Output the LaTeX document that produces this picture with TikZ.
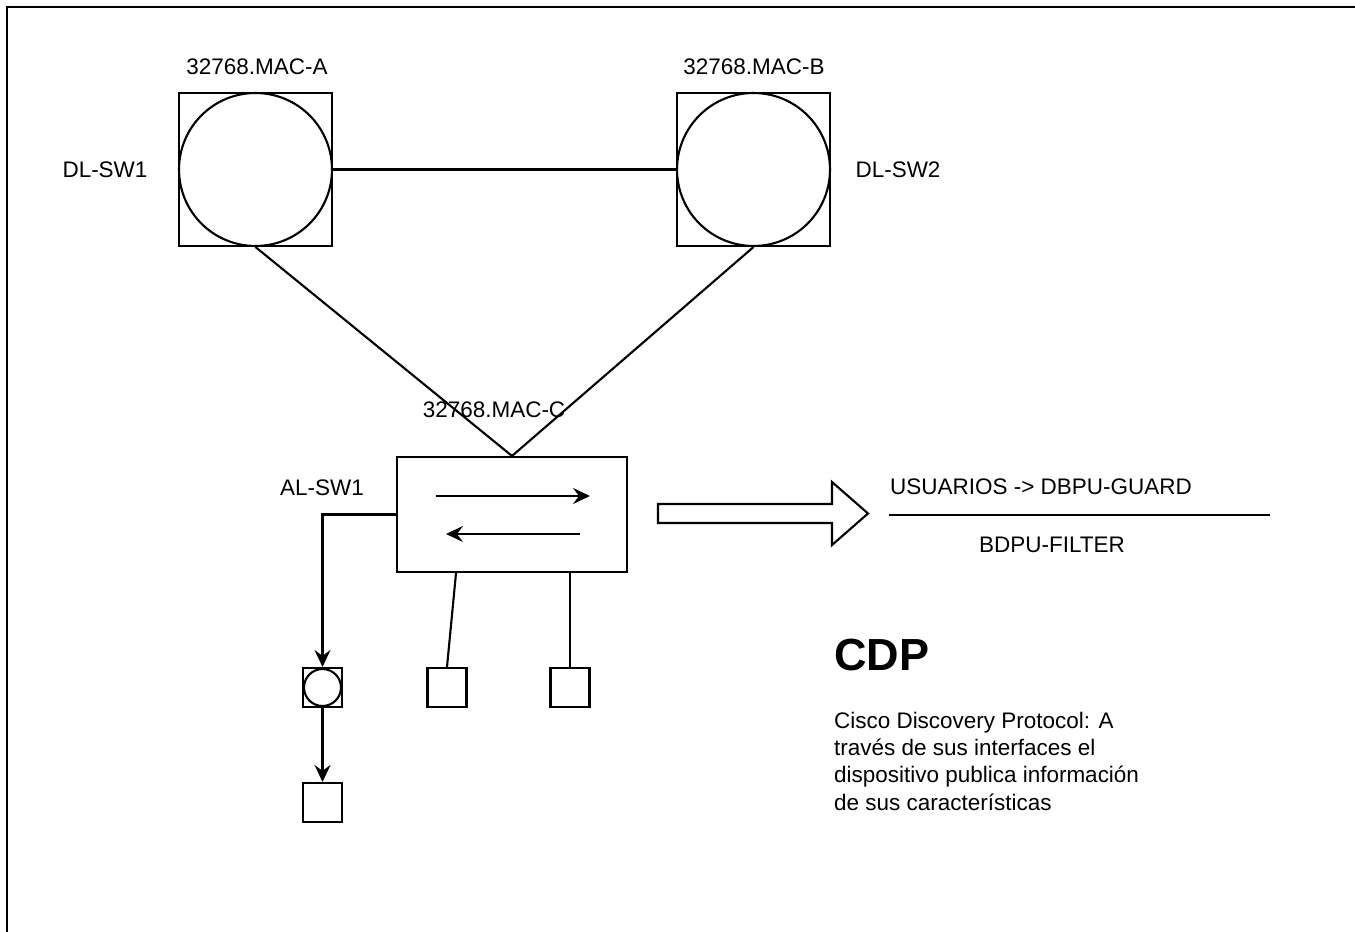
\documentclass[tikz,border=0pt]{standalone}
\usepackage{fontspec}
\setmainfont{Liberation Sans}
\usetikzlibrary{shapes.geometric, arrows, arrows.meta}
\tikzstyle{arrow} = [line width=1.2pt,->,>={Stealth[length=3.4mm,width=3.2mm,inset=1.2mm]}]

\begin{document}
\begin{tikzpicture}
        [
            x=0.02cm, y=-0.02cm, line width=1.2pt,
            swbox/.style={rectangle,draw=black,line width=1.2pt,minimum size=3.06cm,inner sep=0},
            swcirc/.style={circle,draw=black,line width=1.2pt,minimum size=3.06cm,inner sep=0},
            host/.style={rectangle,draw=black,line width=1.2pt,minimum size=0.78cm,inner sep=0},
            hostcirc/.style={circle,draw=black,line width=1.2pt,minimum size=0.74cm,inner sep=0},
            lbl/.style={font=\fontsize{12.8}{15.5}\selectfont,inner sep=0},
        ]

    \useasboundingbox (0,0) rectangle (1355,932);
    \draw[line width=1.4pt] (7,932) -- (7,7) -- (1355,7);

    % distribution switches
    \node[swbox] (sw1) at (255.5,169.5){};
    \node[swcirc] (c1) at (255.5,169.5){};
    \node[swbox] (sw2) at (753.5,169.5){};
    \node[swcirc] (c2) at (753.5,169.5){};
    \node[lbl] (macA) at (257,67){32768.MAC-A};
    \node[lbl] (macB) at (754,67){32768.MAC-B};
    \node[lbl] (dl1) at (105,170){DL-SW1};
    \node[lbl] (dl2) at (898,170){DL-SW2};

    % access switch
    \node[rectangle,draw=black,line width=1.2pt,minimum width=4.6cm,minimum height=2.3cm,inner sep=0] (al) at (512,514.5){};
    \node[lbl] (macC) at (494,410){32768.MAC-C};
    \node[lbl] (alname) at (322,488){AL-SW1};

    \draw (c1.east) -- (c2.west);
    \draw (c1.south) -- (al.north);
    \draw (c2.south) -- (al.north);

    \coordinate (a1) at (436,496);
    \coordinate (a2) at (590,496);
    \coordinate (a3) at (580,534);
    \coordinate (a4) at (446,534);
    \draw[arrow] (a1) -- (a2);
    \draw[arrow] (a3) -- (a4);

    % hosts
    \node[host] (h1) at (322.5,687.5){};
    \node[hostcirc] (h1c) at (322.5,687.5){};
    \node[host] (h2) at (322.5,802.5){};
    \node[host] (h3) at (447,687.5){};
    \node[host] (h4) at (570,687.5){};

    \draw[arrow] (al.west) -| (h1.north);
    \draw[arrow] (h1.south) -- (h2.north);
    \draw ([xshift=-1.12cm]al.south) -- (h3.north);
    \draw (h4.north) -- (h4.north |- al.south);

    % block arrow
    \draw (658,504) -- (832,504) -- (832,482) -- (868,513.5) -- (832,545) -- (832,523) -- (658,523) -- cycle;

    \node[lbl] (guard) at (1041,487){USUARIOS -> DBPU-GUARD};
    \coordinate (d1) at (889,515);
    \coordinate (d2) at (1270,515);
    \draw (d1) -- (d2);
    \node[lbl] (filter) at (1052,545){BDPU-FILTER};

    \node[anchor=west,inner sep=0,font=\fontsize{25.6}{30}\selectfont\bfseries] (cdp) at (833,655){CDP};
    \node[lbl,anchor=north west,align=left] (cdptext) at (833,711){Cisco Discovery Protocol: A\\través de sus interfaces el\\dispositivo publica información\\de sus características};
\end{tikzpicture}
\end{document}
